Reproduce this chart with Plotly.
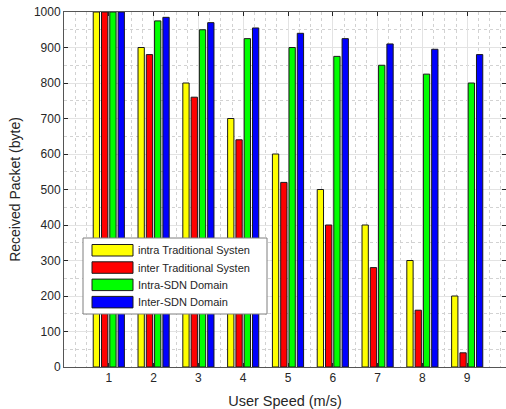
import plotly.graph_objects as go

speeds = [1, 2, 3, 4, 5, 6, 7, 8, 9]
intra_trad = [1000, 900, 800, 700, 600, 500, 400, 300, 200]
inter_trad = [1000, 880, 760, 640, 520, 400, 280, 160, 40]
intra_sdn = [1000, 975, 950, 925, 900, 875, 850, 825, 800]
inter_sdn = [1000, 985, 970, 955, 940, 925, 910, 895, 880]
names = ["intra Traditional Systen", "inter Traditional Systen", "Intra-SDN Domain", "Inter-SDN Domain"]
colors = ["#FFFF00", "#FF0000", "#00FF00", "#0000FF"]
series = [intra_trad, inter_trad, intra_sdn, inter_sdn]
y_ticks = list(range(0, 1001, 100))

W, H = 506, 409
L, R, T, B = 64, 0, 12, 42
FONT = "Liberation Sans, Arial, Helvetica, sans-serif"

fig = go.Figure()
for nm, col, vals in zip(names, colors, series):
    fig.add_trace(go.Bar(x=speeds, y=vals, name=nm, marker=dict(color=col, line=dict(color="#1a1a1a", width=1)),
                         showlegend=False))

pw = W - L - R
ph = H - T - B
def px(x):
    return (x - L) / pw
def py(y):
    return (H - B - y) / ph

shapes = []
annotations = []
# legend box
shapes.append(dict(type="rect", xref="paper", yref="paper", x0=px(83), x1=px(267), y0=py(314), y1=py(238),
                   fillcolor="white", line=dict(color="#7f7f7f", width=1), layer="above"))
row_tops = [244.5, 261.8, 279.1, 296.4]
for i, (nm, col) in enumerate(zip(names, colors)):
    t = row_tops[i]
    shapes.append(dict(type="rect", xref="paper", yref="paper", x0=px(92), x1=px(133), y0=py(t + 11.5), y1=py(t),
                       fillcolor=col, line=dict(color="#1a1a1a", width=1), layer="above"))
    annotations.append(dict(text=nm, xref="paper", yref="paper", x=px(136), y=py(t + 5.8), xanchor="left",
                            yanchor="middle", showarrow=False, font=dict(family=FONT, size=11, color="#262626")))

fig.update_layout(
    width=W, height=H,
    margin=dict(l=L, r=R, t=T, b=B, pad=0),
    paper_bgcolor="white", plot_bgcolor="white",
    barmode="group", bargap=0.26, bargroupgap=0.24,
    font=dict(family=FONT, size=12, color="#262626"),
    shapes=shapes, annotations=annotations,
)
fig.update_xaxes(
    range=[0, (W - L) / 44.8], tickvals=speeds, ticktext=[str(s) for s in speeds],
    showline=True, linecolor="#555555", linewidth=1, mirror="ticks",
    ticks="inside", ticklen=4, tickcolor="#262626",
    showgrid=True, gridcolor="#e3e3e3", gridwidth=1,
    minor=dict(dtick=0.25, tick0=0, showgrid=True, gridcolor="#d2d2d2", griddash="dot", ticks=""),
    zeroline=False,
    title=dict(text="User Speed (m/s)", font=dict(family=FONT, size=14.5, color="#262626"), standoff=11),
    tickfont=dict(family=FONT, size=12, color="#262626"),
)
fig.update_yaxes(
    range=[0, 1000], tickvals=y_ticks,
    showline=True, linecolor="#555555", linewidth=1, mirror="ticks",
    ticks="inside", ticklen=4, tickcolor="#262626",
    showgrid=True, gridcolor="#e3e3e3", gridwidth=1,
    minor=dict(dtick=50, tick0=0, showgrid=True, gridcolor="#d2d2d2", griddash="dot", ticks=""),
    zeroline=False,
    title=dict(text="Received Packet (byte)", font=dict(family=FONT, size=14, color="#262626"), standoff=9),
    tickfont=dict(family=FONT, size=12, color="#262626"),
)

fig.write_html("out.html")
